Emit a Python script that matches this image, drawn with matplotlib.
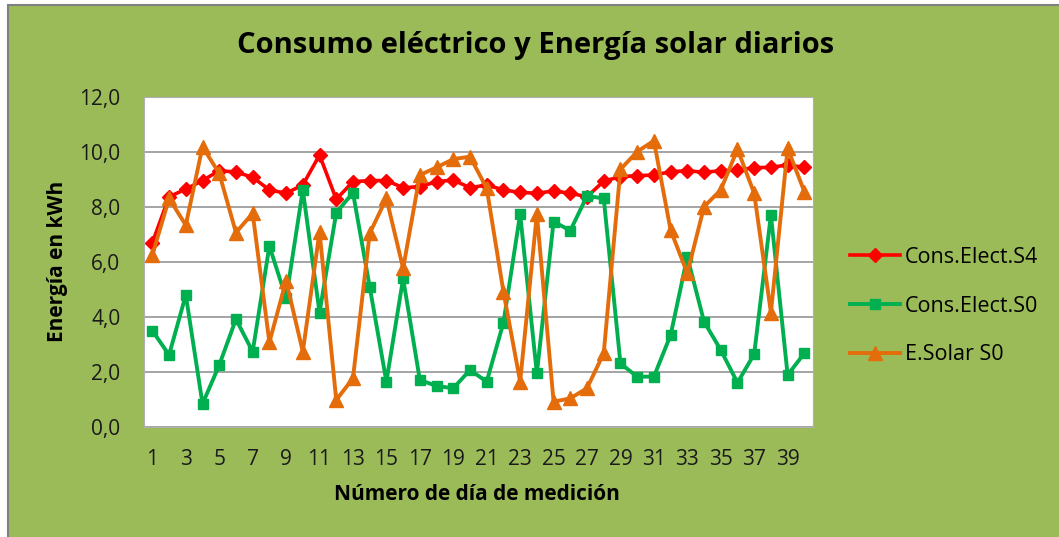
import matplotlib.pyplot as plt
from matplotlib.patches import Rectangle
from matplotlib.ticker import FuncFormatter

# === Data ===
dias = list(range(1, 41))

cons_s4 = [6.69, 8.36, 8.64, 8.95, 9.31, 9.26, 9.07, 8.61, 8.49, 8.79,
           9.88, 8.27, 8.91, 8.95, 8.95, 8.69, 8.73, 8.91, 8.97, 8.69,
           8.79, 8.61, 8.52, 8.49, 8.57, 8.49, 8.36, 8.93, 9.09, 9.13,
           9.15, 9.27, 9.31, 9.25, 9.31, 9.33, 9.42, 9.43, 9.52, 9.43]

cons_s0 = [3.49, 2.61, 4.79, 0.83, 2.24, 3.91, 2.73, 6.57, 4.67, 8.61,
           4.15, 7.78, 8.51, 5.09, 1.64, 5.39, 1.70, 1.48, 1.40, 2.06,
           1.64, 3.78, 7.73, 1.94, 7.46, 7.13, 8.39, 8.30, 2.30, 1.82,
           1.82, 3.33, 6.18, 3.82, 2.79, 1.60, 2.64, 7.70, 1.88, 2.67]

solar_s0 = [6.24, 8.30, 7.33, 10.18, 9.21, 7.06, 7.76, 3.07, 5.31, 2.73,
            7.09, 0.97, 1.76, 7.03, 8.30, 5.76, 9.15, 9.43, 9.73, 9.82,
            8.67, 4.91, 1.64, 7.73, 0.91, 1.03, 1.40, 2.67, 9.36, 10.00,
            10.40, 7.15, 5.58, 8.00, 8.61, 10.09, 8.49, 4.15, 10.12, 8.55]

etiquetas = ["Cons.Elect.S4", "Cons.Elect.S0", "E.Solar S0"]

# === Figure ===
plt.rcParams['font.family'] = ['Open Sans', 'DejaVu Sans']
W, H = 1059, 537
fig = plt.figure(figsize=(W / 100, H / 100), dpi=100, facecolor='white')

# green chart area with grey border (top/left visible)
bg = Rectangle((7.5 / W, -5 / H), (W + 10) / W, (H - 4.5 + 5) / H,
               transform=fig.transFigure, facecolor='#9BBB59',
               edgecolor='#808080', linewidth=1.5, zorder=-10)
fig.patches.append(bg)

ax = fig.add_axes([144 / W, 1 - 426.7 / H, (812.7 - 144) / W, (426.7 - 96.7) / H])
ax.set_facecolor('white')

ax.plot(dias, cons_s4, color='#FF0000', lw=2.6, marker='D', ms=6.8,
        mec='#FF0000', label=etiquetas[0])
ax.plot(dias, cons_s0, color='#00B050', lw=2.8, marker='s', ms=7.5,
        mec='#00B050', label=etiquetas[1])
ax.plot(dias, solar_s0, color='#E46C0A', lw=2.8, marker='^', ms=10.5,
        mec='#E46C0A', label=etiquetas[2])

ax.set_xlim(0.5, 40.5)
ax.set_ylim(0, 12)
ax.set_xticks(dias[::2])
ax.set_yticks(range(0, 13, 2))
ax.yaxis.set_major_formatter(FuncFormatter(lambda v, p: f"{v:.1f}".replace('.', ',')))
ax.tick_params(length=0, labelsize=15, colors='#1a1a1a')
ax.tick_params(axis='x', pad=16)
ax.tick_params(axis='y', pad=17)
ax.grid(axis='y', color='#8C8C8C', lw=1.1)
ax.set_axisbelow(True)
for s in ax.spines.values():
    s.set_color('#B0B0B0')
    s.set_linewidth(0.8)

fig.text(0.506, 1 - 45 / H, "Consumo eléctrico y Energía solar diarios",
         ha='center', va='center', fontsize=21, fontweight='bold')
fig.text(477 / W, 1 - 495 / H, "Número de día de medición", ha='center',
         va='center', fontsize=15, fontweight='bold')
fig.text(57 / W, 1 - 261 / H, "Energía en kWh", ha='center', va='center',
         rotation=90, fontsize=15, fontweight='bold')

fig.legend(loc='center left', bbox_to_anchor=(850 / W, 1 - 306 / H),
           frameon=False, fontsize=15.5, handlelength=2.3, handletextpad=0.25,
           labelspacing=1.3, borderpad=0, borderaxespad=0)

fig.savefig('out.png', dpi=100, facecolor='white')
